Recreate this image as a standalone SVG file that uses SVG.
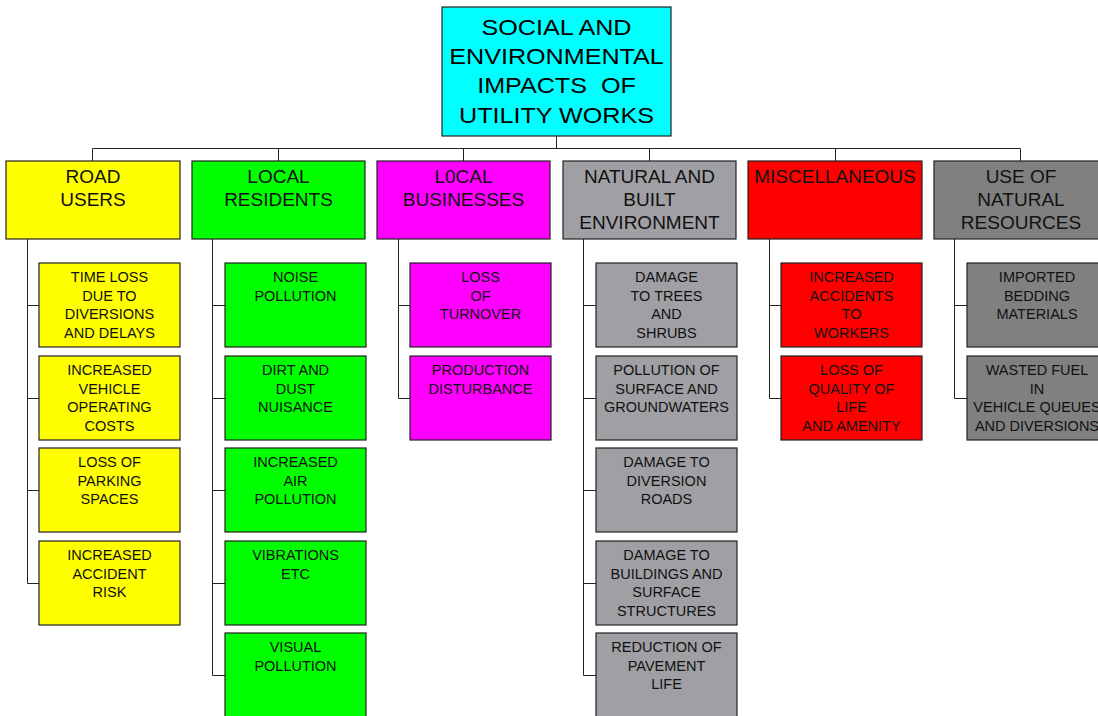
<svg xmlns="http://www.w3.org/2000/svg" width="1098" height="716" viewBox="0 0 1098 716">
<style>
.box{stroke:#222;stroke-width:1.2}
.l0{font-family:"Liberation Sans",Arial,sans-serif;font-size:21.5px;text-anchor:middle;fill:#000}
.l1{font-family:"Liberation Sans",Arial,sans-serif;font-size:19px;text-anchor:middle;fill:#111}
.l2{font-family:"Liberation Sans",Arial,sans-serif;font-size:14.5px;text-anchor:middle;fill:#111}
.cn{stroke:#222;stroke-width:1;fill:none}
.y{fill:#ffff00}.g{fill:#00ff00}.m{fill:#ff00ff}.n{fill:#a0a0a4}.r{fill:#ff0000}.u{fill:#808080}.c{fill:#00ffff}
</style>
<rect width="1098" height="716" fill="#fff"/>
<g id="connectors">
<path class="cn" d="M556.5 136V148.5M92.5 148.5H1020.5M92.5 148.5V161M278.5 148.5V161M463.5 148.5V161M649.5 148.5V161M835.5 148.5V161M1020.5 148.5V161"/>
<path class="cn" d="M27.5 239V583.5M27.5 305.5H39M27.5 398.5H39M27.5 490.5H39M27.5 583.5H39"/>
<path class="cn" d="M212.5 239V675.5M212.5 305.5H225M212.5 398.5H225M212.5 490.5H225M212.5 583.5H225M212.5 675.5H225"/>
<path class="cn" d="M398.5 239V398.5M398.5 305.5H410M398.5 398.5H410"/>
<path class="cn" d="M583.5 239V675.5M583.5 305.5H596M583.5 398.5H596M583.5 490.5H596M583.5 583.5H596M583.5 675.5H596"/>
<path class="cn" d="M769.5 239V398.5M769.5 305.5H781M769.5 398.5H781"/>
<path class="cn" d="M954.5 239V398.5M954.5 305.5H967M954.5 398.5H967"/>
</g>
<g id="root">
<rect class="box c" x="442" y="7" width="229" height="129"/>
<g transform="translate(556.5 0) scale(1.17 1)">
<text class="l0" x="0" y="34.7">SOCIAL AND</text>
<text class="l0" x="0" y="64">ENVIRONMENTAL</text>
<text class="l0" x="0" y="93.3" xml:space="preserve">IMPACTS  OF</text>
<text class="l0" x="0" y="122.7">UTILITY WORKS</text>
</g>
</g>
<g id="road-users">
<rect class="box y" x="6" y="161" width="174" height="78"/>
<text class="l1" x="93" y="183.3">ROAD</text>
<text class="l1" x="93" y="206">USERS</text>
</g>
<g id="local-residents">
<rect class="box g" x="192" y="161" width="173" height="78"/>
<text class="l1" x="278.5" y="183.3">LOCAL</text>
<text class="l1" x="278.5" y="206">RESIDENTS</text>
</g>
<g id="local-businesses">
<rect class="box m" x="377" y="161" width="173" height="78"/>
<text class="l1" x="463.5" y="183.3">L0CAL</text>
<text class="l1" x="463.5" y="206">BUSINESSES</text>
</g>
<g id="natural-built">
<rect class="box n" x="563" y="161" width="173" height="78"/>
<text class="l1" x="649.5" y="183.3">NATURAL AND</text>
<text class="l1" x="649.5" y="206">BUILT</text>
<text class="l1" x="649.5" y="228.7">ENVIRONMENT</text>
</g>
<g id="miscellaneous">
<rect class="box r" x="748" y="161" width="174" height="78"/>
<text class="l1" x="835" y="183.3">MISCELLANEOUS</text>
</g>
<g id="natural-resources">
<rect class="box u" x="934" y="161" width="174" height="78"/>
<text class="l1" x="1021" y="183.3">USE OF</text>
<text class="l1" x="1021" y="206">NATURAL</text>
<text class="l1" x="1021" y="228.7">RESOURCES</text>
</g>
<!-- road users children -->
<g id="ru1"><rect class="box y" x="39" y="263" width="141" height="84"/>
<text class="l2" x="109.5" y="282.3">TIME LOSS</text><text class="l2" x="109.5" y="300.7">DUE TO</text><text class="l2" x="109.5" y="319.1">DIVERSIONS</text><text class="l2" x="109.5" y="337.5">AND DELAYS</text></g>
<g id="ru2"><rect class="box y" x="39" y="356" width="141" height="84"/>
<text class="l2" x="109.5" y="375.3">INCREASED</text><text class="l2" x="109.5" y="393.7">VEHICLE</text><text class="l2" x="109.5" y="412.1">OPERATING</text><text class="l2" x="109.5" y="430.5">COSTS</text></g>
<g id="ru3"><rect class="box y" x="39" y="448" width="141" height="84"/>
<text class="l2" x="109.5" y="467.3">LOSS OF</text><text class="l2" x="109.5" y="485.7">PARKING</text><text class="l2" x="109.5" y="504.1">SPACES</text></g>
<g id="ru4"><rect class="box y" x="39" y="541" width="141" height="84"/>
<text class="l2" x="109.5" y="560.3">INCREASED</text><text class="l2" x="109.5" y="578.7">ACCIDENT</text><text class="l2" x="109.5" y="597.1">RISK</text></g>
<!-- residents children -->
<g id="lr1"><rect class="box g" x="225" y="263" width="141" height="84"/>
<text class="l2" x="295.5" y="282.3">NOISE</text><text class="l2" x="295.5" y="300.7">POLLUTION</text></g>
<g id="lr2"><rect class="box g" x="225" y="356" width="141" height="84"/>
<text class="l2" x="295.5" y="375.3">DIRT AND</text><text class="l2" x="295.5" y="393.7">DUST</text><text class="l2" x="295.5" y="412.1">NUISANCE</text></g>
<g id="lr3"><rect class="box g" x="225" y="448" width="141" height="84"/>
<text class="l2" x="295.5" y="467.3">INCREASED</text><text class="l2" x="295.5" y="485.7">AIR</text><text class="l2" x="295.5" y="504.1">POLLUTION</text></g>
<g id="lr4"><rect class="box g" x="225" y="541" width="141" height="84"/>
<text class="l2" x="295.5" y="560.3">VIBRATIONS</text><text class="l2" x="295.5" y="578.7">ETC</text></g>
<g id="lr5"><rect class="box g" x="225" y="633" width="141" height="84"/>
<text class="l2" x="295.5" y="652.3">VISUAL</text><text class="l2" x="295.5" y="670.7">POLLUTION</text></g>
<!-- business children -->
<g id="lb1"><rect class="box m" x="410" y="263" width="141" height="84"/>
<text class="l2" x="480.5" y="282.3">LOSS</text><text class="l2" x="480.5" y="300.7">OF</text><text class="l2" x="480.5" y="319.1">TURNOVER</text></g>
<g id="lb2"><rect class="box m" x="410" y="356" width="141" height="84"/>
<text class="l2" x="480.5" y="375.3">PRODUCTION</text><text class="l2" x="480.5" y="393.7">DISTURBANCE</text></g>
<!-- natural children -->
<g id="nb1"><rect class="box n" x="596" y="263" width="141" height="84"/>
<text class="l2" x="666.5" y="282.3">DAMAGE</text><text class="l2" x="666.5" y="300.7">TO TREES</text><text class="l2" x="666.5" y="319.1">AND</text><text class="l2" x="666.5" y="337.5">SHRUBS</text></g>
<g id="nb2"><rect class="box n" x="596" y="356" width="141" height="84"/>
<text class="l2" x="666.5" y="375.3">POLLUTION OF</text><text class="l2" x="666.5" y="393.7">SURFACE AND</text><text class="l2" x="666.5" y="412.1">GROUNDWATERS</text></g>
<g id="nb3"><rect class="box n" x="596" y="448" width="141" height="84"/>
<text class="l2" x="666.5" y="467.3">DAMAGE TO</text><text class="l2" x="666.5" y="485.7">DIVERSION</text><text class="l2" x="666.5" y="504.1">ROADS</text></g>
<g id="nb4"><rect class="box n" x="596" y="541" width="141" height="84"/>
<text class="l2" x="666.5" y="560.3">DAMAGE TO</text><text class="l2" x="666.5" y="578.7">BUILDINGS AND</text><text class="l2" x="666.5" y="597.1">SURFACE</text><text class="l2" x="666.5" y="615.5">STRUCTURES</text></g>
<g id="nb5"><rect class="box n" x="596" y="633" width="141" height="84"/>
<text class="l2" x="666.5" y="652.3">REDUCTION OF</text><text class="l2" x="666.5" y="670.7">PAVEMENT</text><text class="l2" x="666.5" y="689.1">LIFE</text></g>
<!-- misc children -->
<g id="mi1"><rect class="box r" x="781" y="263" width="141" height="84"/>
<text class="l2" x="851.5" y="282.3">INCREASED</text><text class="l2" x="851.5" y="300.7">ACCIDENTS</text><text class="l2" x="851.5" y="319.1">TO</text><text class="l2" x="851.5" y="337.5">WORKERS</text></g>
<g id="mi2"><rect class="box r" x="781" y="356" width="141" height="84"/>
<text class="l2" x="851.5" y="375.3">LOSS OF</text><text class="l2" x="851.5" y="393.7">QUALITY OF</text><text class="l2" x="851.5" y="412.1">LIFE</text><text class="l2" x="851.5" y="430.5">AND AMENITY</text></g>
<!-- use children -->
<g id="un1"><rect class="box u" x="967" y="263" width="141" height="84"/>
<text class="l2" x="1037" y="282.3">IMPORTED</text><text class="l2" x="1037" y="300.7">BEDDING</text><text class="l2" x="1037" y="319.1">MATERIALS</text></g>
<g id="un2"><rect class="box u" x="967" y="356" width="141" height="84"/>
<text class="l2" x="1037" y="375.3">WASTED FUEL</text><text class="l2" x="1037" y="393.7">IN</text><text class="l2" x="1037" y="412.1">VEHICLE QUEUES</text><text class="l2" x="1037" y="430.5">AND DIVERSIONS</text></g>
</svg>
